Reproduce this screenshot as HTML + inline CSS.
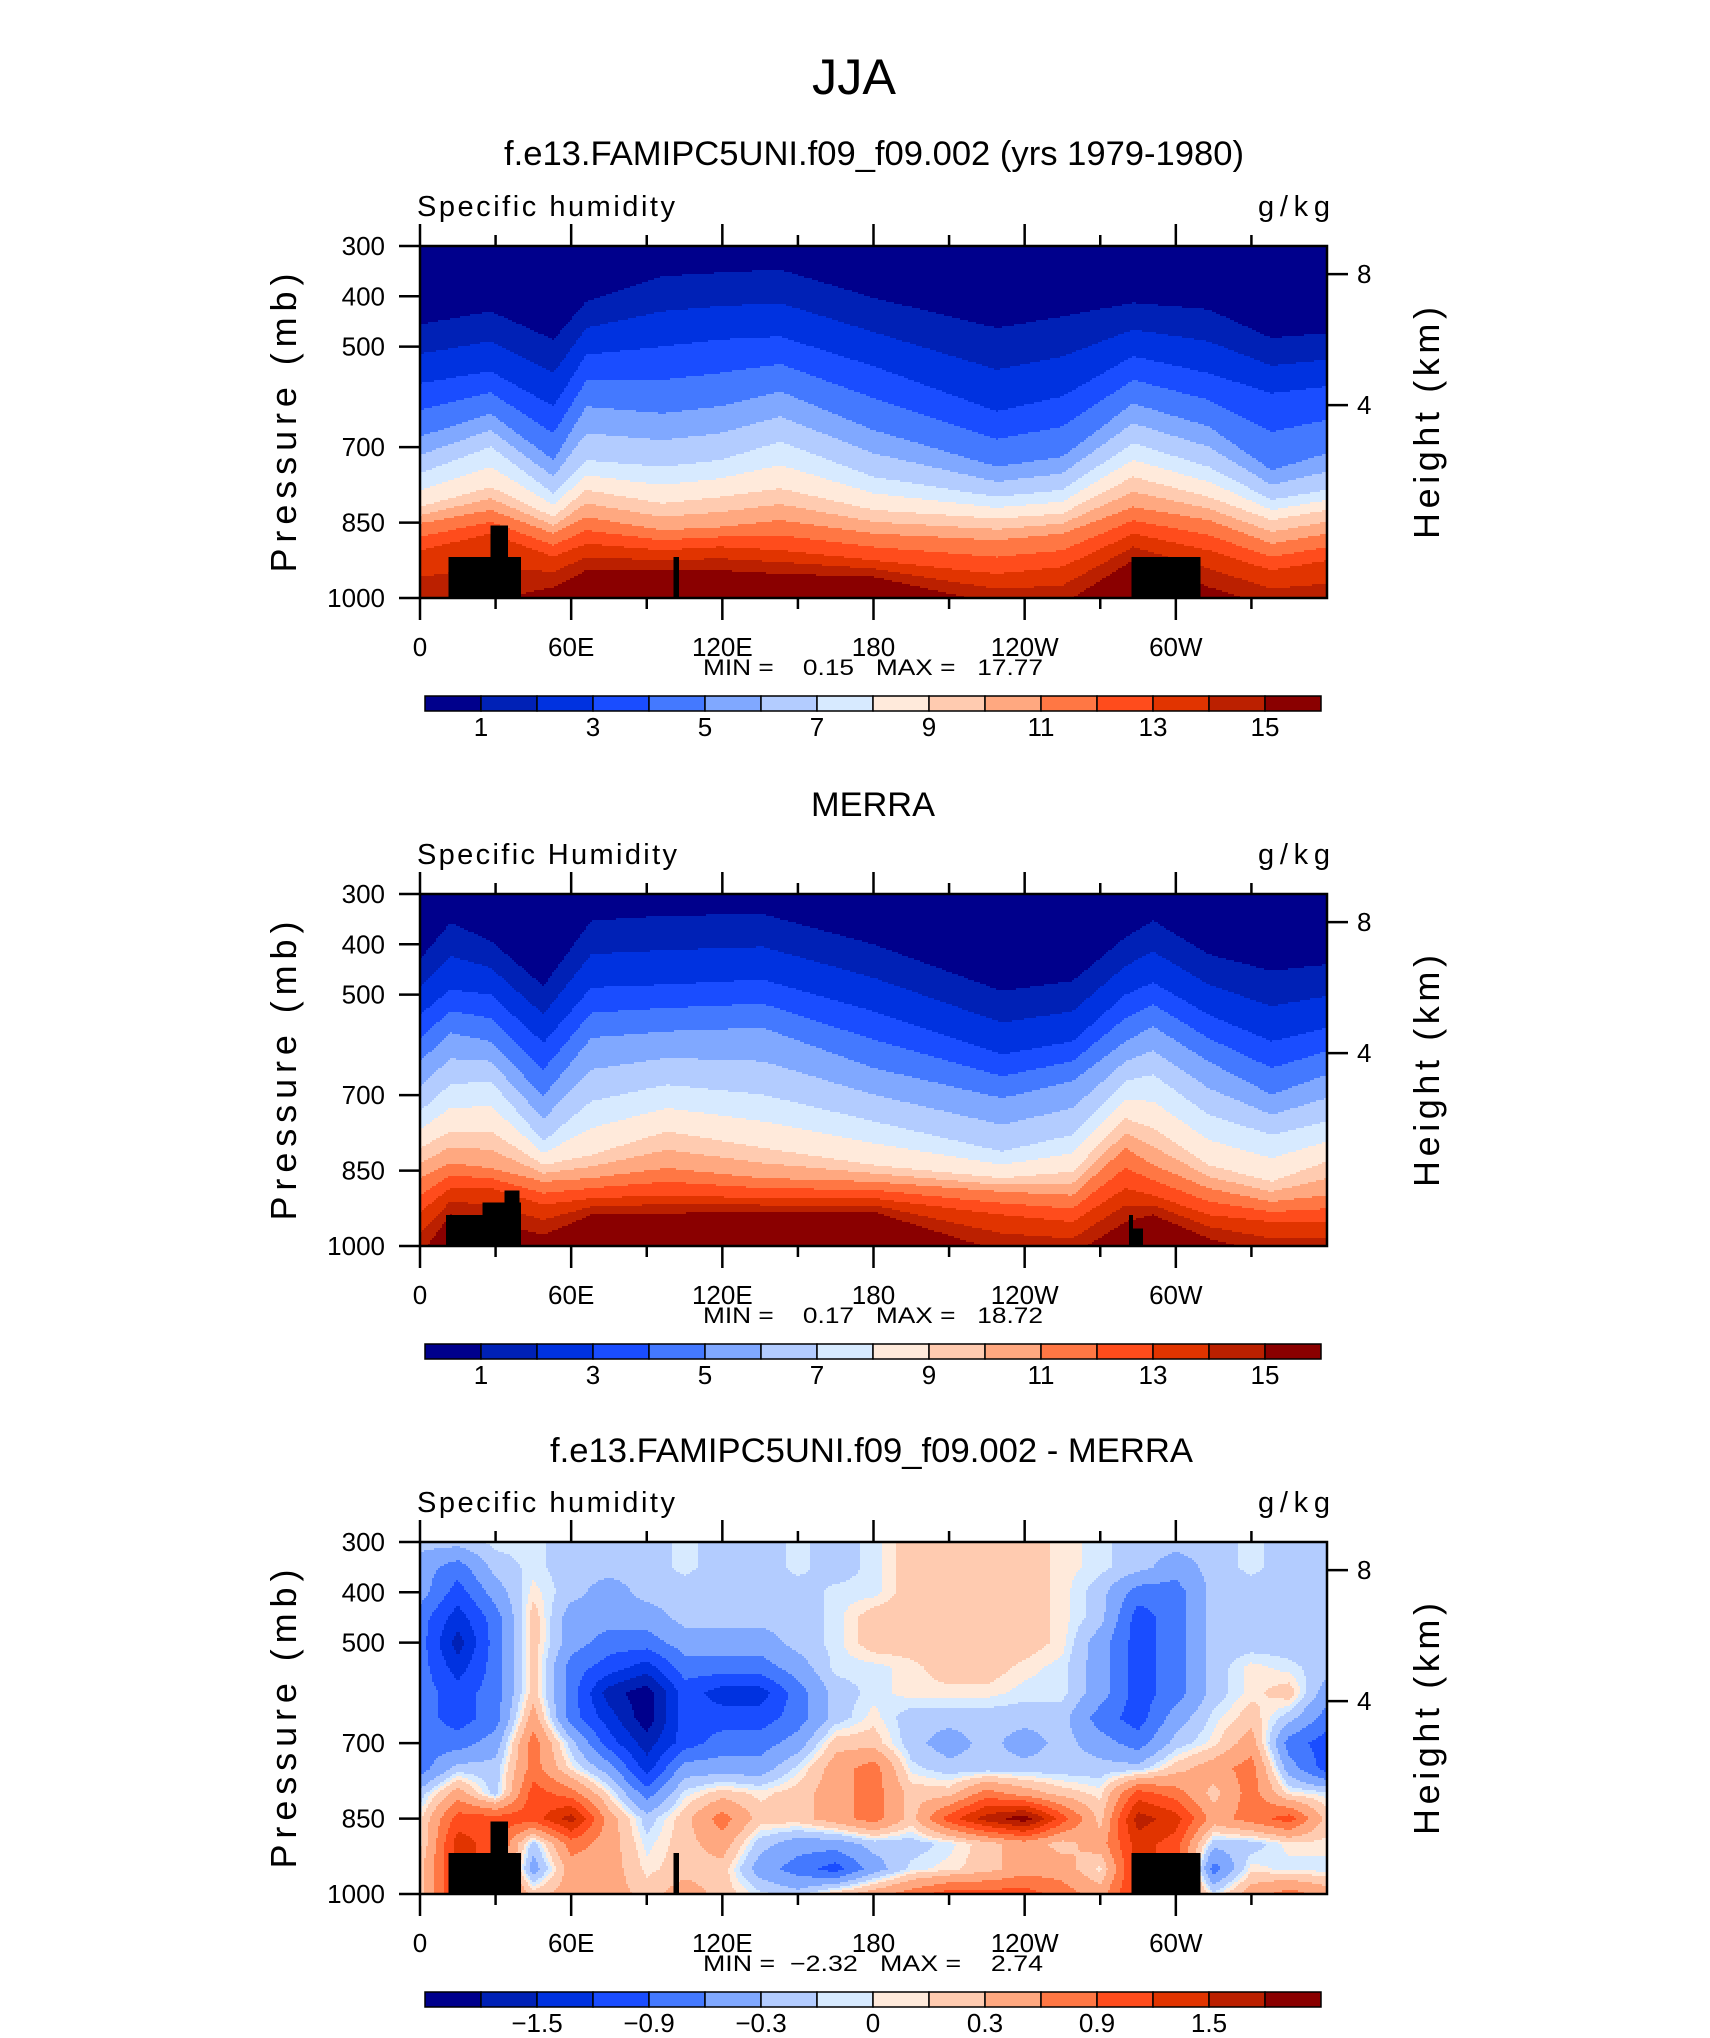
<!DOCTYPE html>
<html><head><meta charset="utf-8">
<style>
html,body{margin:0;padding:0;background:#fff;}
svg{display:block;font-family:"Liberation Sans",sans-serif;}
</style></head>
<body>
<svg id="fig" xmlns="http://www.w3.org/2000/svg" width="1710" height="2038" viewBox="0 0 1710 2038">
<rect x="0" y="0" width="1710" height="2038" fill="#fff"/>
<text x="854" y="94" text-anchor="middle" font-size="50" textLength="84" lengthAdjust="spacingAndGlyphs">JJA</text>
<text x="504" y="165" font-size="34" textLength="740" lengthAdjust="spacingAndGlyphs">f.e13.FAMIPC5UNI.f09_f09.002 (yrs 1979-1980)</text>
<text x="811" y="816" font-size="34" textLength="124" lengthAdjust="spacingAndGlyphs">MERRA</text>
<text x="550" y="1462" font-size="34" textLength="643" lengthAdjust="spacingAndGlyphs">f.e13.FAMIPC5UNI.f09_f09.002 - MERRA</text>
</svg>
<script>
// ---------------- data ----------------
const lonTickValues = [0,30,60,90,120,150,180,210,240,270,300,330];
const lonTickLabels = ['0','','60E','','120E','','180','','120W','','60W',''];
const presTicks = [300,400,500,700,850,1000];
const heightTicksKm = [4,8];

const fillColors = ['#00008c','#0021b6','#0032e0','#1a4dff','#4479ff','#80a8ff','#b3ccff','#d7eaff','#ffeadb','#ffcbb0','#ffa880','#ff7744','#ff4c1c','#e13400','#bb2000','#8a0000'];
const qBounds = [1,2,3,4,5,6,7,8,9,10,11,12,13,14,15];
const qBarLabels = ['1','','3','','5','','7','','9','','11','','13','','15'];
const dBounds = [-1.8,-1.5,-1.2,-0.9,-0.6,-0.3,-0.1,0,0.1,0.3,0.6,0.9,1.2,1.5,1.8];
const dBarLabels = ['','\u22121.5','','\u22120.9','','\u22120.3','','0','','0.3','','0.9','','1.5',''];

// Panel 1: pressure (mb) of humidity contours q=1,3,...,15 vs longitude
const p1Lons = [0,28,53,66,96,119,143,180,229,255,283,313,338,360];
const p1q1  = [456,430,486,410,360,353,347,403,463,440,413,426,483,473];
const p1q3  = [573,549,619,516,500,486,480,539,629,599,519,553,593,579];
const p1q5  = [679,633,726,619,633,619,589,666,739,719,613,659,746,712];
const p1q7  = [752,699,792,726,739,726,689,759,799,785,692,739,805,785];
const p1q9  = [819,779,839,785,812,799,782,825,842,832,759,799,845,825];
const p1q11 = [852,825,872,839,865,859,845,872,885,872,819,845,892,872];
const p1q13 = [905,872,918,892,905,898,905,925,952,938,872,905,945,925];
const p1q15 = [1012,1005,978,945,945,945,952,958,1012,1012,925,978,1018,1018];

// Panel 2 (MERRA)
const p2Lons = [0,12,28,49,68,98,136,180,231,259,280,291,313,338,360];
const p2q1  = [430,357,393,483,353,343,340,400,493,473,386,353,420,453,440];
const p2q3  = [540,490,500,596,486,480,470,533,619,593,500,476,540,593,566];
const p2q5  = [633,576,593,702,586,573,566,646,706,672,593,563,633,699,659];
const p2q7  = [732,679,672,792,712,679,699,752,812,779,672,659,739,779,752];
const p2q9  = [805,772,772,839,819,772,805,839,865,852,746,766,839,872,832];
const p2q11 = [865,835,845,872,865,845,865,872,892,899,805,839,885,912,899];
const p2q13 = [932,885,885,918,905,899,905,905,938,952,885,899,938,952,952];
const p2q15 = [1018,938,952,978,938,935,932,932,1012,1018,952,938,985,1018,1018];

// Panel 3 difference (g/kg), lon every 15 deg, rows at pressure levels
const dLons = [0,15,30,45,60,75,90,105,120,135,150,165,180,195,210,225,240,255,270,285,300,315,330,345,360];
const dPres = [300,350,400,450,500,550,600,650,700,750,800,850,900,950,1000];
const d300 = [-0.2,-0.2,-0.05,-0.05,-0.2,-0.2,-0.2,-0.05,-0.2,-0.2,-0.05,-0.2,-0.05,0.2,0.2,0.2,0.2,0.05,-0.05,-0.2,-0.2,-0.2,-0.05,-0.2,-0.2];
const d350 = [-0.45,-0.75,-0.2,-0.05,-0.2,-0.2,-0.2,-0.05,-0.2,-0.2,-0.05,-0.2,-0.05,0.2,0.2,0.2,0.2,0.05,-0.05,-0.2,-0.45,-0.2,-0.05,-0.2,-0.2];
const d400 = [-0.45,-1.05,-0.45,0.05,-0.2,-0.45,-0.2,-0.2,-0.2,-0.2,-0.2,-0.05,-0.05,0.2,0.2,0.2,0.2,0.05,-0.2,-0.75,-0.75,-0.2,-0.2,-0.2,-0.2];
const d450 = [-0.75,-1.35,-0.75,0.2,-0.45,-0.45,-0.45,-0.2,-0.2,-0.2,-0.2,-0.05,0.2,0.2,0.2,0.2,0.2,0.05,-0.2,-1.05,-0.75,-0.2,-0.2,-0.2,-0.2];
const d500 = [-0.75,-1.65,-0.75,0.2,-0.45,-0.75,-0.75,-0.45,-0.45,-0.45,-0.2,-0.05,0.2,0.2,0.2,0.2,0.2,0.05,-0.45,-1.05,-0.75,-0.2,-0.2,-0.2,-0.2];
const d550 = [-0.75,-1.35,-0.75,0.2,-0.75,-1.05,-1.35,-0.75,-0.75,-0.75,-0.45,-0.05,-0.05,0.05,0.2,0.2,0.05,-0.05,-0.45,-1.05,-0.75,-0.2,0.05,-0.05,-0.2];
const d600 = [-0.75,-1.05,-0.75,0.2,-0.75,-1.65,-2,-1.05,-1.35,-1.35,-0.75,-0.2,-0.05,0.05,0.05,0.05,-0.05,-0.05,-0.45,-1.05,-0.75,-0.2,0.05,0.2,-0.45];
const d650 = [-0.75,-1.05,-0.75,0.45,-0.75,-1.35,-2,-1.05,-1.05,-1.05,-0.75,-0.2,0.05,-0.2,-0.2,-0.2,-0.2,-0.2,-0.75,-1.05,-0.45,-0.05,0.2,-0.2,-0.75];
const d700 = [-0.75,-0.75,-0.45,0.75,-0.2,-1.05,-1.65,-1.05,-0.75,-0.75,-0.45,0.2,0.2,-0.2,-0.45,-0.2,-0.45,-0.2,-0.45,-0.75,-0.2,0.05,0.45,-0.75,-1.05];
const d750 = [-0.75,-0.2,-0.2,0.75,0.05,-0.45,-1.35,-0.45,-0.45,-0.45,-0.05,0.45,0.75,-0.05,-0.2,-0.2,-0.2,-0.2,-0.2,-0.2,0.2,0.45,0.75,-0.45,-1.05];
const d800 = [-0.2,0.45,-0.2,1.05,0.75,0.05,-0.75,-0.05,0.2,0.05,0.2,0.45,0.75,0.2,0.2,0.75,0.45,0.2,0.05,1.05,0.75,0.2,0.75,0.05,-0.05];
const d850 = [0.05,1.05,1.05,1.05,1.65,0.45,-0.2,0.2,0.75,0.2,0.2,0.45,0.75,0.2,1.05,1.65,2,1.05,0.2,1.65,1.35,0.45,0.75,1.05,0.2];
const d900 = [0.05,1.35,1.05,-0.2,0.75,0.45,-0.05,0.2,0.45,-0.2,-0.45,-0.45,-0.2,-0.2,-0.05,0.2,0.45,0.2,0.45,1.35,1.05,-0.2,-0.2,0.05,0.05];
const d950 = [0.2,1.35,1.05,-0.45,0.45,0.45,0.05,0.2,0.2,-0.45,-0.75,-1.05,-0.45,-0.05,0.05,0.2,0.45,0.45,0.05,1.35,1.05,-0.75,0.05,-0.05,-0.05];
const d1000= [0.2,1.35,1.05,0.2,0.45,0.45,0.2,0.45,0.2,-0.05,-0.2,0.2,0.45,0.75,1.05,1.05,1.05,0.75,0.45,1.35,1.05,-0.05,0.45,0.75,0.45];

// Topography masks: [lonStart, lonEnd, topPressure]
const topoModel = [[11.4,40.1,918],[28,35,856],[100.7,102.8,918],[282.5,309.8,918]];
const topoMerra = [[10.3,40.1,938],[24.9,40.1,913],[33.6,39.4,890],[281.4,283,938],[283,287,965]];

// ---------------- drawing ----------------
const NS='http://www.w3.org/2000/svg';
const svg=document.getElementById('fig');
const X0=420, PW=907, PH=352;
const tops=[246,894,1542];
function xs(lon){return X0+lon/360*PW;}
function ys(T,p){return T+(p-300)/700*PH;}
function mk(parent,tag,attrs,text){const e=document.createElementNS(NS,tag);for(const k in attrs)e.setAttribute(k,attrs[k]);if(text!==undefined)e.textContent=text;parent.appendChild(e);return e;}
function interp1(xa,ya,x){if(x<=xa[0])return ya[0];for(let i=1;i<xa.length;i++){if(x<=xa[i]){const t=(x-xa[i-1])/(xa[i]-xa[i-1]);return ya[i-1]+t*(ya[i]-ya[i-1]);}}return ya[ya.length-1];}
function levelIdx(bounds,v){let k=0;while(k<bounds.length&&v>=bounds[k])k++;return k;}
function hPres(km){return 1013.25*Math.pow(1-2.25577e-5*km*1000,5.25588);}

function drawField(g,T,valFn,bounds){
  const step=2;
  for(let py=0;py<PH;py+=step){
    const p=300+(py+step/2)/PH*700;
    let runStart=0,runIdx=-1;
    const flush=(end)=>{
      const r=mk(g,'rect',{x:X0+runStart,y:T+py,width:end-runStart,height:step,fill:fillColors[runIdx]});
      
      
    };
    for(let px=0;px<PW;px+=step){
      const lon=(px+step/2)/PW*360;
      const idx=levelIdx(bounds,valFn(lon,p));
      if(idx!==runIdx){if(runIdx>=0)flush(px);runStart=px;runIdx=idx;}
    }
    flush(PW);
  }
}
function lineFieldFn(lons,lines){
  const qv=[0,1,3,5,7,9,11,13,15,17];
  return function(lon,p){
    const ps=[250];
    for(const L of lines)ps.push(interp1(lons,L,lon));
    ps.push(1100);
    for(let i=1;i<ps.length;i++)if(ps[i]<=ps[i-1])ps[i]=ps[i-1]+0.01;
    return interp1(ps,qv,p);
  };
}
const dGrid=[d300,d350,d400,d450,d500,d550,d600,d650,d700,d750,d800,d850,d900,d950,d1000];
function diffFn(lon,p){
  const col=dGrid.map(row=>interp1(dLons,row,lon));
  return interp1(dPres,col,p);
}

const panels=[
 {fn:lineFieldFn(p1Lons,[p1q1,p1q3,p1q5,p1q7,p1q9,p1q11,p1q13,p1q15]),bounds:qBounds,labels:qBarLabels,topo:topoModel,left:'Specific humidity',stats:'MIN =    0.15   MAX =   17.77'},
 {fn:lineFieldFn(p2Lons,[p2q1,p2q3,p2q5,p2q7,p2q9,p2q11,p2q13,p2q15]),bounds:qBounds,labels:qBarLabels,topo:topoMerra,left:'Specific Humidity',stats:'MIN =    0.17   MAX =   18.72'},
 {fn:diffFn,bounds:dBounds,labels:dBarLabels,topo:topoModel,left:'Specific humidity',stats:'MIN =  \u22122.32   MAX =    2.74'}
];

panels.forEach((P,k)=>{
  const T=tops[k];
  const g=mk(svg,'g',{});
  
  
  const clipId='clip'+k;
  const defs=mk(g,'defs',{});
  const cp=mk(defs,'clipPath',{id:clipId});
  mk(cp,'rect',{x:X0,y:T,width:PW,height:PH});
  const fg=mk(g,'g',{'clip-path':'url(#'+clipId+')','shape-rendering':'crispEdges'});
  
  
  drawField(fg,T,P.fn,P.bounds);
  P.topo.forEach(t=>{
    const r=mk(fg,'rect',{x:xs(t[0]),y:ys(T,t[2]),width:xs(t[1])-xs(t[0]),height:ys(T,1000)-ys(T,t[2])+1,fill:'#000'});
    
    
  });
  const frame=mk(g,'rect',{x:X0,y:T,width:PW,height:PH,fill:'none',stroke:'#000','stroke-width':2.5});
  
  
  lonTickValues.forEach((lv,i)=>{
    const x=xs(lv), major=(lv%60===0), len=major?22:11;
    const t1=mk(g,'line',{x1:x,y1:T,x2:x,y2:T-len,stroke:'#000','stroke-width':2.5});
    
    
    const t2=mk(g,'line',{x1:x,y1:T+PH,x2:x,y2:T+PH+len,stroke:'#000','stroke-width':2.5});
    
    
    if(lonTickLabels[i]){
      const tl=mk(g,'text',{x:x,y:T+410,'text-anchor':'middle','font-size':26},lonTickLabels[i]);
      
      
    }
  });
  presTicks.forEach(pv=>{
    const y=ys(T,pv);
    const t=mk(g,'line',{x1:X0-21,y1:y,x2:X0,y2:y,stroke:'#000','stroke-width':2.5});
    
    
    const tl=mk(g,'text',{x:X0-35,y:y+9,'text-anchor':'end','font-size':26},String(pv));
    
    
  });
  heightTicksKm.forEach(hv=>{
    const y=ys(T,hPres(hv));
    const t=mk(g,'line',{x1:X0+PW,y1:y,x2:X0+PW+21,y2:y,stroke:'#000','stroke-width':2.5});
    
    
    const tl=mk(g,'text',{x:X0+PW+30,y:y+9,'font-size':26},String(hv));
    
    
  });
  const yl=mk(g,'text',{x:0,y:0,'text-anchor':'middle','font-size':36,textLength:299,lengthAdjust:'spacing',transform:'translate(296,'+(T+177)+') rotate(-90)'},'Pressure (mb)');
  
  
  const hl=mk(g,'text',{x:0,y:0,'text-anchor':'middle','font-size':36,textLength:232,lengthAdjust:'spacing',transform:'translate(1439,'+(T+177)+') rotate(-90)'},'Height (km)');
  
  
  const ls=mk(g,'text',{x:417,y:T-30,'font-size':29,textLength:k===1?260:258,lengthAdjust:'spacing'},P.left);
  
  
  const rs=mk(g,'text',{x:1258,y:T-30,'font-size':29,textLength:72,lengthAdjust:'spacing'},'g/kg');
  
  
  const st=mk(g,'text',{x:703,y:T+429,'font-size':22,textLength:340,lengthAdjust:'spacingAndGlyphs','xml:space':'preserve',style:'white-space:pre'},P.stats);
  
  
  const cb=mk(g,'g',{});
  
  
  const cbx=425, cbw=896, cby=T+450, cbh=15, bw=cbw/16;
  fillColors.forEach((c,i)=>{
    const r=mk(cb,'rect',{x:cbx+i*bw,y:cby,width:bw,height:cbh,fill:c,stroke:'#000','stroke-width':1.5});
    
    
  });
  P.labels.forEach((lab,i)=>{
    if(!lab)return;
    const tl=mk(cb,'text',{x:cbx+(i+1)*bw,y:T+490,'text-anchor':'middle','font-size':26},lab);
    
    
  });
});
</script>
</body></html>
